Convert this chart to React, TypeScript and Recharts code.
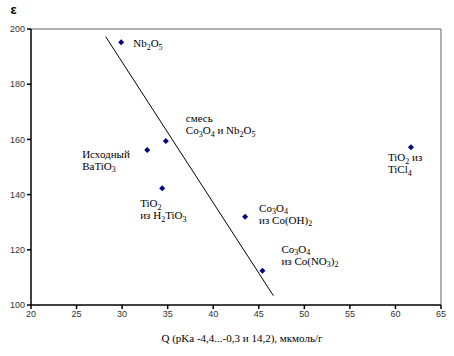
import React from 'react'
import { ScatterChart, Scatter, XAxis, YAxis, ReferenceLine } from 'recharts'

// Q, мкмоль/г
const qValues = [29.9, 34.8, 32.75, 34.4, 43.5, 45.4, 61.7]
// ε
const epsValues = [195.2, 159.4, 156.2, 142.3, 132.0, 112.4, 157.2]
// label lines, "_" = subscript run
const pointLabels = [
  ['Nb_2O_5'],
  ['смесь', 'Co_3O_4 и Nb_2O_5'],
  ['Исходный', 'BaTiO_3'],
  ['TiO_2', ' из H_2TiO_3'],
  ['Co_3O_4', 'из Co(OH)_2'],
  ['Co_3O_4', 'из Co(NO_3)_2'],
  ['TiO_2 из', 'TiCl_4'],
]
const trendQ = [28.2, 46.6]
const trendEps = [197.2, 103.4]
const xTicks = [20, 25, 30, 35, 40, 45, 50, 55, 60, 65]
const yTicks = [100, 120, 140, 160, 180, 200]

// label offsets from the marker (layout only)
const labelOffsets = [
  [12, 5],
  [20, -19],
  [-65, 8],
  [-22, 19],
  [14, -5],
  [19, -18],
  [-23, 14],
]

const data = qValues.map((q, i) => ({ q, eps: epsValues[i], idx: i }))
const serif = '"Liberation Serif", "Times New Roman", serif'
const sans = '"Liberation Sans", Arial, sans-serif'

function renderLine(line: string) {
  // "Co_3O_4" -> Co, sub 3, O, sub 4
  const parts: React.ReactNode[] = []
  const re = /_(\d+)/g
  let last = 0
  let m: RegExpExecArray | null
  let k = 0
  let sub = false
  while ((m = re.exec(line)) !== null) {
    const before = line.slice(last, m.index)
    if (before) {
      parts.push(<tspan key={k++} dy={sub ? -2.5 : 0}>{before}</tspan>)
      sub = false
    }
    parts.push(<tspan key={k++} fontSize={8} dy={sub ? 0 : 2.5}>{m[1]}</tspan>)
    sub = true
    last = m.index + m[0].length
  }
  const rest = line.slice(last)
  if (rest) parts.push(<tspan key={k++} dy={sub ? -2.5 : 0}>{rest}</tspan>)
  return parts
}

const DiamondWithLabel = (props: any) => {
  const { cx, cy, payload } = props
  const [dx, dy] = labelOffsets[payload.idx]
  const lines = pointLabels[payload.idx]
  return (
    <g>
      <path d={`M${cx},${cy - 3} L${cx + 3},${cy} L${cx},${cy + 3} L${cx - 3},${cy} Z`} fill="#000080" />
      {lines.map((ln, j) => (
        <text key={j} x={cx + dx} y={cy + dy + j * 12} fontFamily={serif} fontSize={11} fill="#000">
          {renderLine(ln)}
        </text>
      ))}
    </g>
  )
}

export default function App() {
  return (
    <div style={{ position: 'absolute', left: 0, top: 0, width: 454, height: 356, background: '#fff' }}>
      <ScatterChart width={454} height={356} margin={{ top: 29, right: 13, bottom: 0, left: 0 }}>
        <XAxis
          type="number"
          dataKey="q"
          domain={[20, 65]}
          ticks={xTicks}
          interval={0}
          height={51}
          tickSize={4}
          stroke="#000"
          strokeWidth={1.5}
          tick={{ fontSize: 9, fontFamily: sans, fill: '#333' }}
          label={{
            value: 'Q (pKa -4,4...-0,3 и 14,2), мкмоль/г',
            position: 'insideBottom',
            offset: 14,
            dx: 6,
            fontSize: 11,
            fontFamily: serif,
            fill: '#000',
          }}
        />
        <YAxis
          type="number"
          dataKey="eps"
          domain={[100, 200]}
          ticks={yTicks}
          interval={0}
          width={31}
          tickSize={4}
          stroke="#000"
          strokeWidth={1.5}
          tick={{ fontSize: 9, fontFamily: sans, fill: '#333' }}
          label={{
            value: 'ε',
            position: 'top',
            offset: 15,
            dx: -2,
            fontSize: 13,
            fontWeight: 'bold',
            fontFamily: sans,
            fill: '#000',
          }}
        />
        <ReferenceLine y={200} stroke="#999" strokeWidth={1.5} />
        <ReferenceLine x={65} stroke="#999" strokeWidth={1.5} />
        <ReferenceLine
          segment={[
            { x: trendQ[0], y: trendEps[0] },
            { x: trendQ[1], y: trendEps[1] },
          ]}
          stroke="#000"
          strokeWidth={1}
        />
        <Scatter data={data} shape={DiamondWithLabel} isAnimationActive={false} />
      </ScatterChart>
    </div>
  )
}
